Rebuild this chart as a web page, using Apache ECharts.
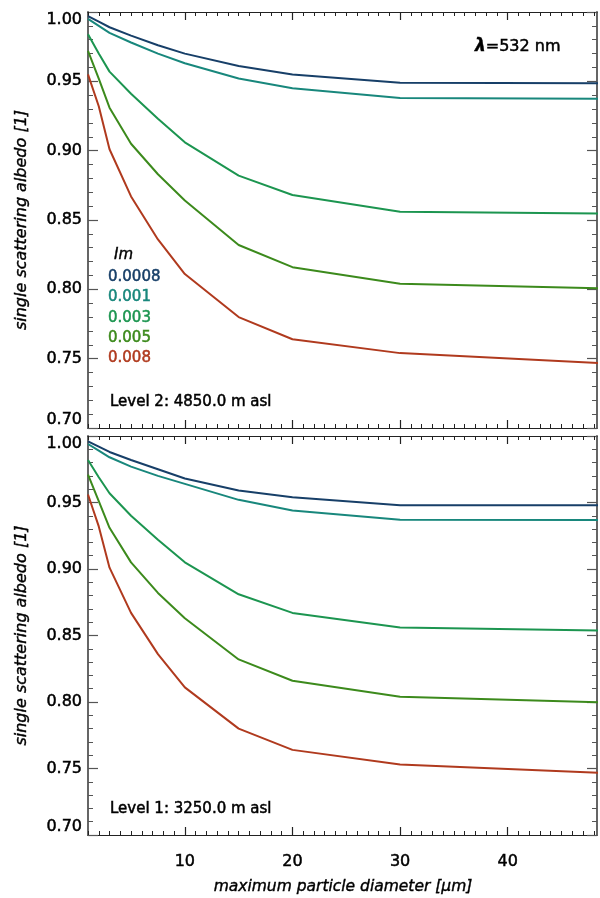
<!DOCTYPE html>
<html>
<head>
<meta charset="utf-8">
<script src="https://cdn.jsdelivr.net/npm/echarts@6/dist/echarts.min.js"></script>
<style>
html,body{margin:0;padding:0;background:#fff;}
#chart{width:600px;height:898px;}
</style>
</head>
<body>
<div id="chart"></div>
<script>
// ---- data ----
const diameters = [1, 2, 3, 5, 7.5, 10, 15, 20, 30, 50];
const imLabels = ['0.0008', '0.001', '0.003', '0.005', '0.008'];
const lineColors = ['#173f68', '#18877c', '#1c9550', '#3c8a1c', '#b03a1e'];

// Level 2: 4850.0 m asl (top panel)
const lvl2_im0008 = [0.997, 0.993, 0.989, 0.983, 0.976, 0.970, 0.961, 0.955, 0.949, 0.9485];
const lvl2_im001  = [0.995, 0.990, 0.985, 0.978, 0.970, 0.963, 0.952, 0.945, 0.938, 0.9373];
const lvl2_im003  = [0.984, 0.970, 0.957, 0.941, 0.923, 0.906, 0.882, 0.868, 0.856, 0.8545];
const lvl2_im005  = [0.972, 0.952, 0.931, 0.905, 0.883, 0.864, 0.832, 0.816, 0.804, 0.8005];
const lvl2_im008  = [0.955, 0.932, 0.901, 0.867, 0.836, 0.811, 0.780, 0.764, 0.754, 0.7462];

// Level 1: 3250.0 m asl (bottom panel)
const lvl1_im0008 = [0.996, 0.992, 0.988, 0.982, 0.975, 0.968, 0.959, 0.954, 0.948, 0.948];
const lvl1_im001  = [0.994, 0.989, 0.984, 0.977, 0.970, 0.964, 0.952, 0.944, 0.937, 0.9368];
const lvl1_im003  = [0.982, 0.969, 0.957, 0.940, 0.922, 0.905, 0.881, 0.867, 0.856, 0.8535];
const lvl1_im005  = [0.971, 0.951, 0.931, 0.905, 0.882, 0.863, 0.832, 0.816, 0.804, 0.7995];
const lvl1_im008  = [0.956, 0.932, 0.901, 0.867, 0.836, 0.811, 0.780, 0.764, 0.753, 0.7462];

const xMajorTicks = [10, 20, 30, 40];
const yTickLabels = ['0.70', '0.75', '0.80', '0.85', '0.90', '0.95', '1.00'];
const panelLabels = ['Level 2: 4850.0 m asl', 'Level 1: 3250.0 m asl'];
const xTitle = 'maximum particle diameter [\u03bcm]';
const yTitle = 'single scattering albedo [1]';

const panels = [
  [lvl2_im0008, lvl2_im001, lvl2_im003, lvl2_im005, lvl2_im008],
  [lvl1_im0008, lvl1_im001, lvl1_im003, lvl1_im005, lvl1_im008]
];

// ---- build ----
const FONT = 'DejaVu Sans';
const X_MIN = 1, X_MAX = 48.3;
const xMinorTicks = [];
for (let v = 1; v <= 48; v++) xMinorTicks.push(v);

const grids = [
  {left: 88, top: 12, right: 3, height: 416},
  {left: 88, top: 436, right: 3, height: 399}
];

const xAxes = [], yAxes = [], series = [];
const axisCol = '#222';
grids.forEach((g, gi) => {
  ['bottom', 'top'].forEach(pos => {
    xAxes.push({
      type: 'value', gridIndex: gi, position: pos, min: X_MIN, max: X_MAX,
      axisLine: {show: true, onZero: false, lineStyle: {color: axisCol, width: 1.2}},
      axisTick: {show: true, inside: true, length: 8, customValues: xMajorTicks, lineStyle: {color: axisCol, width: 1.2}},
      axisLabel: {show: gi === 1 && pos === 'bottom', customValues: xMajorTicks, margin: 19,
        fontFamily: FONT, fontSize: 16, color: '#000', textBorderColor: '#000', textBorderWidth: 0.5},
      splitLine: {show: false}
    });
    xAxes.push({
      type: 'value', gridIndex: gi, position: pos, min: X_MIN, max: X_MAX,
      axisLine: {show: false},
      axisTick: {show: true, inside: true, length: 4, customValues: xMinorTicks, lineStyle: {color: axisCol, width: 1}},
      axisLabel: {show: false},
      splitLine: {show: false}
    });
  });
  ['left', 'right'].forEach(pos => {
    yAxes.push({
      type: 'value', gridIndex: gi, position: pos, min: 0.70, max: 1.00, interval: 0.05,
      axisLine: {show: true, onZero: false, lineStyle: {color: '#555', width: 1.8}},
      axisTick: {show: true, inside: true, length: 10, lineStyle: {color: '#555', width: 1.2}},
      minorTick: {show: true, splitNumber: 5, length: 5, lineStyle: {color: '#555', width: 1}},
      axisLabel: {show: pos === 'left', margin: 6, fontFamily: FONT, fontSize: 16, color: '#000',
        textBorderColor: '#000', textBorderWidth: 0.5,
        formatter: v => yTickLabels[Math.round((v - 0.70) / 0.05)] || v.toFixed(2),
        verticalAlignMaxLabel: 'top', verticalAlignMinLabel: 'bottom'},
      splitLine: {show: false}, minorSplitLine: {show: false}
    });
  });
  panels[gi].forEach((vals, si) => {
    series.push({
      type: 'line', name: imLabels[si], xAxisIndex: gi * 4, yAxisIndex: gi * 2,
      data: diameters.map((d, k) => [d, vals[k]]),
      showSymbol: false, symbol: 'none', smooth: false, clip: true,
      lineStyle: {color: lineColors[si], width: 2}, itemStyle: {color: lineColors[si]},
      z: 10 - si
    });
  });
});

const graphics = [];
// y titles
grids.forEach((g, gi) => {
  graphics.push({
    type: 'text', x: 22, y: g.top + g.height / 2, rotation: Math.PI / 2,
    style: {text: yTitle, fontFamily: FONT, fontSize: 16, fontStyle: 'italic', fill: '#000',
      stroke: '#000', lineWidth: 0.4, textAlign: 'center', textVerticalAlign: 'middle'}
  });
  graphics.push({
    type: 'text', x: 110, y: g.top + g.height - 26,
    style: {text: panelLabels[gi], fontFamily: FONT, fontSize: 15, fill: '#000',
      stroke: '#000', lineWidth: 0.5, textAlign: 'left', textVerticalAlign: 'middle'}
  });
});
// x title
graphics.push({
  type: 'text', x: 343, y: 887,
  style: {text: xTitle, fontFamily: FONT, fontSize: 15.5, fontStyle: 'italic', fill: '#000',
    stroke: '#000', lineWidth: 0.4, textAlign: 'center', textVerticalAlign: 'middle'}
});
// lambda
graphics.push({
  type: 'text', x: 475, y: 47,
  style: {text: '{l|\u03bb}=532 nm', fontFamily: FONT, fontSize: 16, fill: '#000',
    stroke: '#000', lineWidth: 0.5, textAlign: 'left', textVerticalAlign: 'middle',
    rich: {l: {fontFamily: FONT, fontSize: 17, fontWeight: 'bold', fontStyle: 'italic', fill: '#000'}}}
});
// legend
graphics.push({
  type: 'text', x: 114, y: 255,
  style: {text: 'Im', fontFamily: FONT, fontSize: 15, fontStyle: 'italic', fill: '#000',
    stroke: '#000', lineWidth: 0.4, textAlign: 'left', textVerticalAlign: 'middle'}
});
imLabels.forEach((lab, i) => {
  graphics.push({
    type: 'text', x: 108, y: 277 + i * 20.4,
    style: {text: lab, fontFamily: FONT, fontSize: 15, fill: lineColors[i],
      stroke: lineColors[i], lineWidth: 0.5, textAlign: 'left', textVerticalAlign: 'middle'}
  });
});

const chart = echarts.init(document.getElementById('chart'), null, {renderer: 'canvas'});
chart.setOption({
  backgroundColor: '#fff',
  animation: false,
  grid: grids,
  xAxis: xAxes,
  yAxis: yAxes,
  series: series,
  graphic: graphics
});
</script>
</body>
</html>
